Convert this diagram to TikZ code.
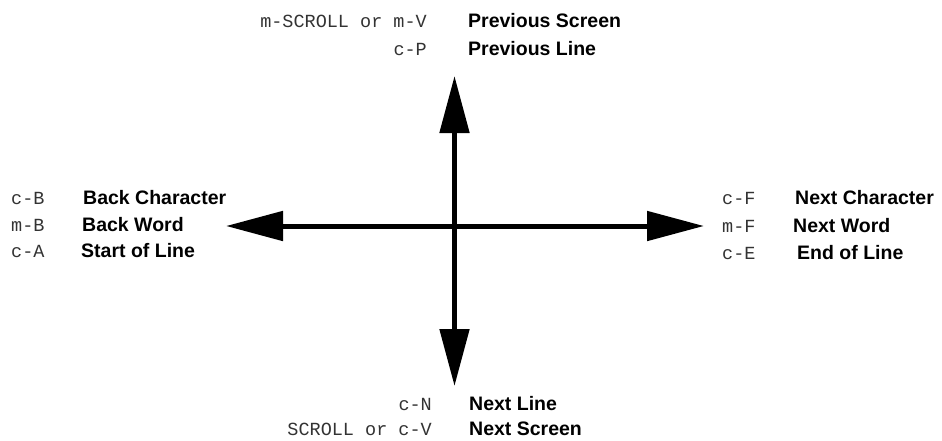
\documentclass[tikz,border=0pt]{standalone}
\usepackage{fontspec}
\setmainfont{Liberation Sans}
\setmonofont{Liberation Mono}
\usetikzlibrary{arrows.meta}
\tikzset{
  arr/.style={line width=5pt, -{Triangle[length=57pt,width=29pt]}},
  cmd/.style={font=\fontsize{18.5}{22}\selectfont\ttfamily, text=black!80, inner sep=0pt},
  lbl/.style={font=\fontsize{19.5}{23}\selectfont\bfseries, inner sep=0pt}
}
\begin{document}
\begin{tikzpicture}[x=1pt,y=-1pt]
\useasboundingbox (0,0) rectangle (942,440);
\coordinate (c) at (454.5,226);
\coordinate (up) at (454.5,76);
\coordinate (dn) at (454.5,386);
\coordinate (lt) at (226,226);
\coordinate (rt) at (704,226);
\draw[arr] (c) -- (up);
\draw[arr] (c) -- (dn);
\draw[arr] (c) -- (lt);
\draw[arr] (c) -- (rt);
% top
\node[cmd, anchor=base east] (k1) at (427,27) {m-SCROLL or m-V};
\node[lbl, anchor=base west] (l1) at (468,27) {Previous Screen};
\node[cmd, anchor=base east] (k2) at (427,55) {c-P};
\node[lbl, anchor=base west] (l2) at (468,55) {Previous Line};
% left
\node[cmd, anchor=base west] (k3) at (11,204) {c-B};
\node[lbl, anchor=base west] (l3) at (83,204) {Back Character};
\node[cmd, anchor=base west] (k4) at (11,231) {m-B};
\node[lbl, anchor=base west] (l4) at (82,231) {Back Word};
\node[cmd, anchor=base west] (k5) at (11,257) {c-A};
\node[lbl, anchor=base west] (l5) at (81,257) {Start of Line};
% right
\node[cmd, anchor=base west] (k6) at (722,204) {c-F};
\node[lbl, anchor=base west] (l6) at (795,204) {Next Character};
\node[cmd, anchor=base west] (k7) at (722,232) {m-F};
\node[lbl, anchor=base west] (l7) at (793,232) {Next Word};
\node[cmd, anchor=base west] (k8) at (722,259) {c-E};
\node[lbl, anchor=base west] (l8) at (797,259) {End of Line};
% bottom
\node[cmd, anchor=base east] (k9) at (432,410) {c-N};
\node[lbl, anchor=base west] (l9) at (469,410) {Next Line};
\node[cmd, anchor=base east] (k10) at (432,435) {SCROLL or c-V};
\node[lbl, anchor=base west] (l10) at (469,435) {Next Screen};
\end{tikzpicture}
\end{document}
